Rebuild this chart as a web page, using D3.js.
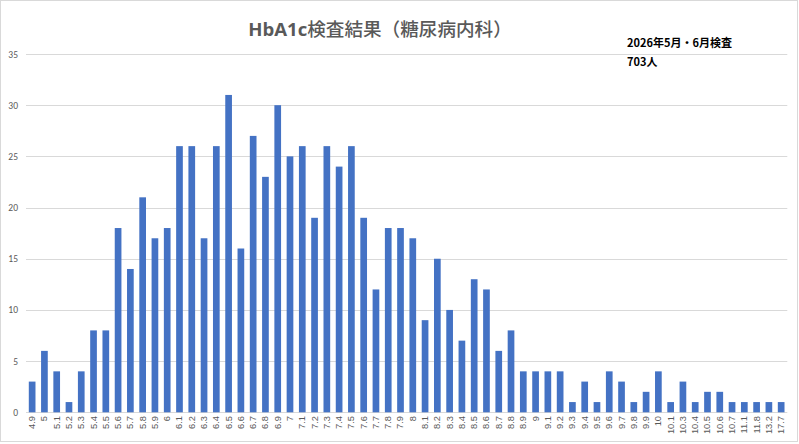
<!DOCTYPE html>
<html><head><meta charset="utf-8">
<script src="https://cdn.jsdelivr.net/npm/d3@7"></script>
<style>
html,body{margin:0;padding:0;background:#fff;}
svg{display:block;font-family:"Noto Sans CJK JP","Noto Sans",sans-serif;}
</style></head><body>
<svg id="c" width="799" height="444"></svg>
<script>
const categories = ["4.9","5","5.1","5.2","5.3","5.4","5.5","5.6","5.7","5.8","5.9","6","6.1","6.2","6.3","6.4","6.5","6.6","6.7","6.8","6.9","7","7.1","7.2","7.3","7.4","7.5","7.6","7.7","7.8","7.9","8","8.1","8.2","8.3","8.4","8.5","8.6","8.7","8.8","8.9","9","9.1","9.2","9.3","9.4","9.5","9.6","9.7","9.8","9.9","10","10.1","10.3","10.4","10.5","10.6","10.7","11.1","11.8","13.2","17.7"];
const counts = [3,6,4,1,4,8,8,18,14,21,17,18,26,26,17,26,31,16,27,23,30,25,26,19,26,24,26,19,12,18,18,17,9,15,10,7,13,12,6,8,4,4,4,4,1,3,1,4,3,1,2,4,1,3,1,2,2,1,1,1,1,1];
const yTicks = [0,5,10,15,20,25,30,35];
const titleLatin = "HbA1c";
const titleCJK = "検査結果（糖尿病内科）";
const notes = ["2026年5月・6月検査","703人"];

const svg = d3.select("#c");
svg.append("rect").attr("x",0.5).attr("y",0.5).attr("width",797).attr("height",441)
  .attr("fill","#fff").attr("stroke","#d9d9d9").attr("stroke-width",1);

const x = d3.scaleBand().domain(categories).range([26,787.3]).paddingInner(0.455).paddingOuter(0.2275);
const y = d3.scaleLinear().domain([0,35]).range([412.3,54]);

// gridlines
svg.append("g").selectAll("line").data(yTicks).join("line")
  .attr("x1",26).attr("x2",787.3)
  .attr("y1",d=>Math.round(y(d))+0.5).attr("y2",d=>Math.round(y(d))+0.5)
  .attr("stroke","#d9d9d9").attr("stroke-width",1);

// y labels
const ya = svg.append("g").attr("transform","translate(18,0)")
  .call(d3.axisLeft(y).tickValues(yTicks).tickSize(0).tickPadding(0));
ya.select(".domain").remove();
ya.selectAll("text").attr("fill","#595959").style("font-size","9.5px").style("font-family","Carlito,'Liberation Sans',sans-serif");

// bars
svg.append("g").selectAll("rect").data(categories).join("rect")
  .attr("x",d=>x(d)).attr("width",x.bandwidth())
  .attr("y",(d,i)=>y(counts[i])).attr("height",(d,i)=>y(0)-y(counts[i]))
  .attr("fill","#4472c4");

// x labels
const xa = svg.append("g").attr("transform","translate(0,416)")
  .call(d3.axisBottom(x).tickSize(0).tickPadding(0));
xa.select(".domain").remove();
xa.selectAll("text")
  .attr("transform","rotate(-90)")
  .attr("text-anchor","end").attr("x",0).attr("y",0).attr("dy","0.32em")
  .attr("fill","#595959").style("font-size","9.3px").style("font-family","'Liberation Sans',sans-serif");

// title
const t = svg.append("text").attr("x",380).attr("y",36).attr("text-anchor","middle")
  .attr("fill","#595959").style("font-size","18.6px");
t.append("tspan").style("font-weight","bold").style("font-family","'Open Sans','Noto Sans',sans-serif").text(titleLatin);
t.append("tspan").style("font-weight","500").text(titleCJK);

// notes
svg.selectAll("text.note").data(notes).join("text").attr("class","note")
  .attr("x",627).attr("y",(d,i)=>47+i*19)
  .attr("fill","#000").style("font-size","11px").style("font-weight","bold").text(d=>d);
</script>
</body></html>
